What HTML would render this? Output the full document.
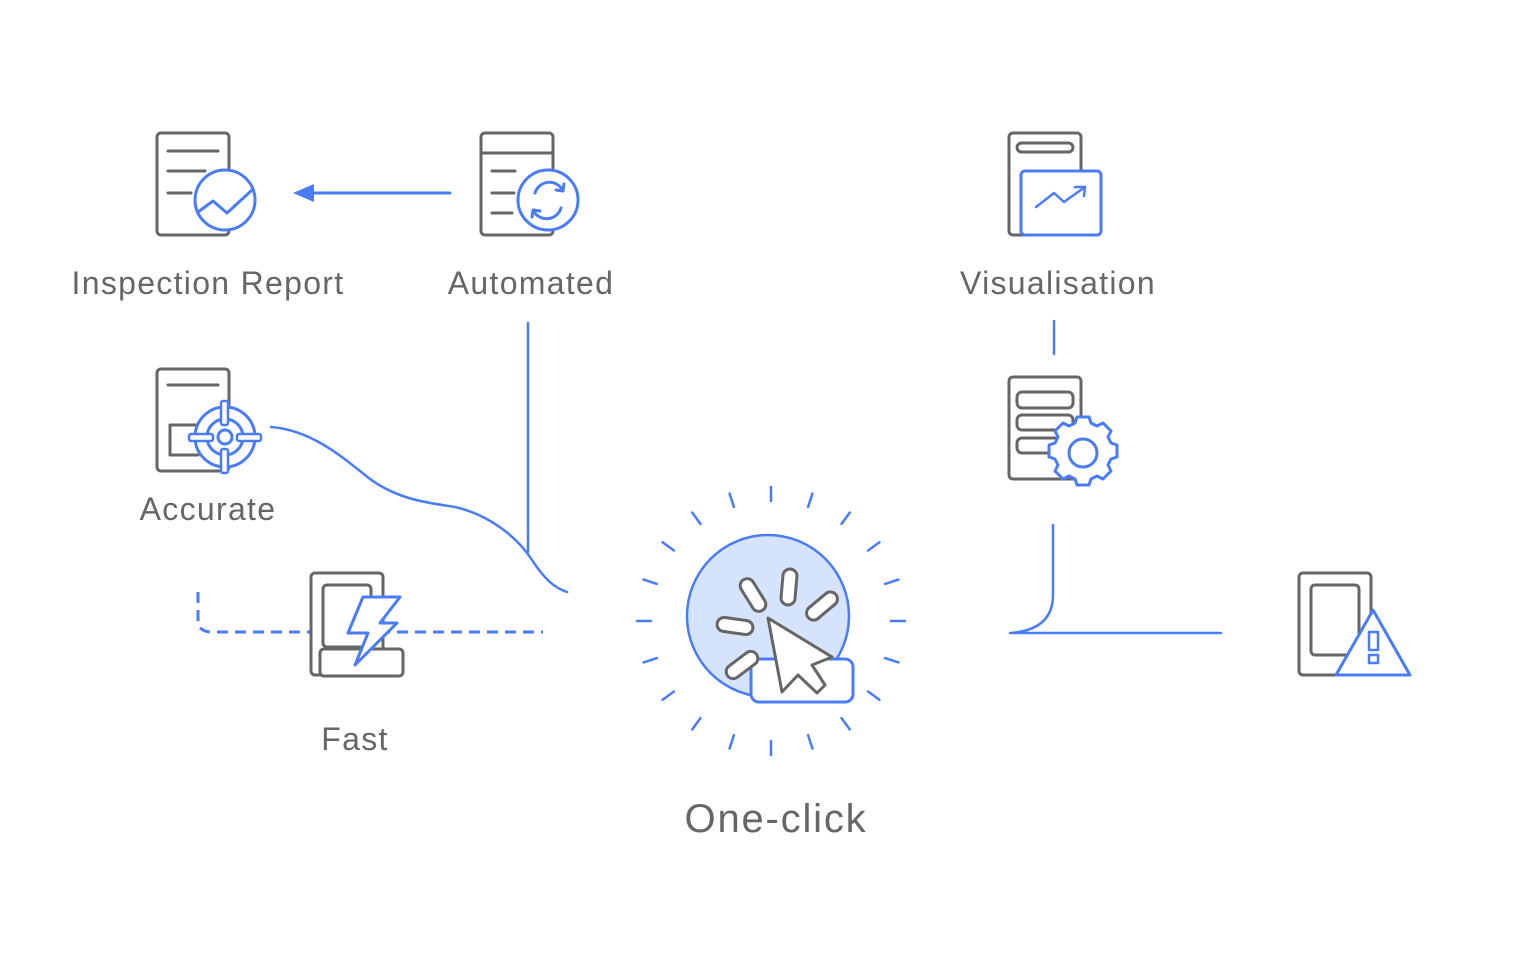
<!DOCTYPE html>
<html><head><meta charset="utf-8"><style>
html,body{margin:0;padding:0;background:#fff;}
svg{display:block}
text{font-family:"Liberation Sans",sans-serif;fill:#666;}
.l{font-size:32px;letter-spacing:1.3px;}
</style></head><body>
<svg width="1540" height="960" viewBox="0 0 1540 960" xmlns="http://www.w3.org/2000/svg">
<g fill="none" stroke-linecap="round" stroke-linejoin="round">
<rect x="157" y="133" width="72" height="102" rx="4" stroke="#666" stroke-width="3"/>
<path d="M168 151H218M168 171H205M168 193H191" stroke="#666" stroke-width="3"/>
<circle cx="225" cy="200" r="30" fill="#fff" stroke="#4a7cf7" stroke-width="3"/>
<polyline points="198,212 213,201 227,213 252,190" stroke="#4a7cf7" stroke-width="3"/>
<line x1="450" y1="193" x2="312" y2="193" stroke="#4a7cf7" stroke-width="3"/>
<polygon points="293,193 314,184 314,202" fill="#4a7cf7"/>
<rect x="481" y="133" width="72" height="102" rx="4" stroke="#666" stroke-width="3"/>
<path d="M481 153H553M492 171H515M492 193H514M492 213H512" stroke="#666" stroke-width="3"/>
<circle cx="548" cy="200" r="30" fill="#fff" stroke="#4a7cf7" stroke-width="3"/>
<path d="M535 193A15 15 0 0 1 563 191M563 191L564 184M563 191L556 190" stroke="#4a7cf7" stroke-width="3"/>
<path d="M561 208A15 15 0 0 1 533 210M533 210L532 217M533 210L540 211" stroke="#4a7cf7" stroke-width="3"/>
<rect x="157" y="369" width="72" height="102" rx="4" stroke="#666" stroke-width="3"/>
<path d="M168 385H218M198 425H170V455H198" stroke="#666" stroke-width="3"/>
<circle cx="225" cy="437" r="30" fill="#fff" stroke="#4a7cf7" stroke-width="3"/>
<circle cx="225" cy="437" r="18" stroke="#4a7cf7" stroke-width="3"/>
<circle cx="225" cy="437" r="7" stroke="#4a7cf7" stroke-width="3"/>
<rect x="221" y="401" width="7" height="24" rx="2" fill="#fff" stroke="#4a7cf7" stroke-width="2.5"/>
<rect x="221" y="449" width="7" height="24" rx="2" fill="#fff" stroke="#4a7cf7" stroke-width="2.5"/>
<rect x="189" y="434" width="24" height="7" rx="2" fill="#fff" stroke="#4a7cf7" stroke-width="2.5"/>
<rect x="237" y="434" width="24" height="7" rx="2" fill="#fff" stroke="#4a7cf7" stroke-width="2.5"/>
<line x1="528" y1="323" x2="528" y2="552" stroke="#4a7cf7" stroke-width="2.5"/>
<path d="M271 427C310 430 340 455 365 475C395 500 430 503 455 507C490 515 518 538 532 560C545 580 555 588 567 592" stroke="#4a7cf7" stroke-width="2.5"/>
<path d="M198 592V620Q198 632 212 632H543" stroke="#4a7cf7" stroke-width="3" stroke-dasharray="11 7" stroke-linecap="butt"/>
<rect x="311" y="573" width="72" height="102" rx="4" fill="#fff" stroke="#666" stroke-width="3"/>
<rect x="323" y="585" width="48" height="62" rx="4" stroke="#666" stroke-width="3"/>
<rect x="320" y="649" width="83" height="27" rx="4" fill="#fff" stroke="#666" stroke-width="3"/>
<polygon points="363,597 400,597 380,623 397,623 355,665 368,633 348,633" fill="#fff" stroke="#4a7cf7" stroke-width="3"/>
<g stroke="#4a7cf7" stroke-width="2.5" transform="translate(771,621)">
<line x1="0" y1="-120" x2="0" y2="-134"/>
<line x1="0" y1="-120" x2="0" y2="-134" transform="rotate(18)"/>
<line x1="0" y1="-120" x2="0" y2="-134" transform="rotate(36)"/>
<line x1="0" y1="-120" x2="0" y2="-134" transform="rotate(54)"/>
<line x1="0" y1="-120" x2="0" y2="-134" transform="rotate(72)"/>
<line x1="0" y1="-120" x2="0" y2="-134" transform="rotate(90)"/>
<line x1="0" y1="-120" x2="0" y2="-134" transform="rotate(108)"/>
<line x1="0" y1="-120" x2="0" y2="-134" transform="rotate(126)"/>
<line x1="0" y1="-120" x2="0" y2="-134" transform="rotate(144)"/>
<line x1="0" y1="-120" x2="0" y2="-134" transform="rotate(162)"/>
<line x1="0" y1="-120" x2="0" y2="-134" transform="rotate(180)"/>
<line x1="0" y1="-120" x2="0" y2="-134" transform="rotate(198)"/>
<line x1="0" y1="-120" x2="0" y2="-134" transform="rotate(216)"/>
<line x1="0" y1="-120" x2="0" y2="-134" transform="rotate(234)"/>
<line x1="0" y1="-120" x2="0" y2="-134" transform="rotate(252)"/>
<line x1="0" y1="-120" x2="0" y2="-134" transform="rotate(270)"/>
<line x1="0" y1="-120" x2="0" y2="-134" transform="rotate(288)"/>
<line x1="0" y1="-120" x2="0" y2="-134" transform="rotate(306)"/>
<line x1="0" y1="-120" x2="0" y2="-134" transform="rotate(324)"/>
<line x1="0" y1="-120" x2="0" y2="-134" transform="rotate(342)"/>
</g>
<circle cx="768" cy="616" r="81" fill="#d6e3fd" stroke="#4a7cf7" stroke-width="2.5"/>
<rect x="751" y="659" width="102" height="43" rx="8" fill="#fff" stroke="#4a7cf7" stroke-width="3"/>
<g stroke="#666" stroke-width="3" fill="#fff">
<rect x="-18" y="-7" width="36" height="14" rx="7" transform="translate(753,595) rotate(58)"/>
<rect x="-18" y="-7" width="36" height="14" rx="7" transform="translate(789,587) rotate(95)"/>
<rect x="-18" y="-7" width="36" height="14" rx="7" transform="translate(822,606) rotate(-40)"/>
<rect x="-18" y="-7" width="36" height="14" rx="7" transform="translate(735,626) rotate(8)"/>
<rect x="-18" y="-7" width="36" height="14" rx="7" transform="translate(742,665) rotate(-37)"/>
<polygon points="768,618 832,657 812,665 825,685 817,693 798,675 782,692"/>
</g>
<rect x="1009" y="133" width="72" height="102" rx="4" stroke="#666" stroke-width="3"/>
<rect x="1017" y="143" width="56" height="9" rx="4.5" stroke="#666" stroke-width="3"/>
<rect x="1021" y="171" width="80" height="64" rx="4" fill="#fff" stroke="#4a7cf7" stroke-width="3"/>
<polyline points="1036,207 1054,193 1064,202 1085,187" stroke="#4a7cf7" stroke-width="2.5"/>
<polyline points="1075,187 1085,187 1084,196" stroke="#4a7cf7" stroke-width="2.5"/>
<line x1="1054" y1="321" x2="1054" y2="354" stroke="#4a7cf7" stroke-width="2.5"/>
<rect x="1009" y="377" width="72" height="102" rx="4" stroke="#666" stroke-width="3"/>
<rect x="1017" y="392" width="56" height="16" rx="5" stroke="#666" stroke-width="3"/>
<rect x="1017" y="415" width="56" height="15" rx="5" stroke="#666" stroke-width="3"/>
<rect x="1017" y="438" width="56" height="15" rx="5" stroke="#666" stroke-width="3"/>
<path d="M1077 417h12l2 6 6 3 6-3 8 8-3 6 3 6 6 2v12l-6 2-3 6 3 6-8 8-6-3-6 3-2 6h-12l-2-6-6-3-6 3-8-8 3-6-3-6-6-2v-12l6-2 3-6-3-6 8-8 6 3 6-3z" fill="#fff" stroke="#4a7cf7" stroke-width="3"/>
<circle cx="1083" cy="453" r="14" stroke="#4a7cf7" stroke-width="3"/>
<path d="M1053 525V595Q1053 630 1010 633H1221" stroke="#4a7cf7" stroke-width="2.5"/>
<rect x="1299" y="573" width="72" height="102" rx="4" stroke="#666" stroke-width="3"/>
<rect x="1311" y="585" width="48" height="70" rx="4" stroke="#666" stroke-width="3"/>
<polygon points="1373,610 1410,675 1336,675" fill="#fff" stroke="#4a7cf7" stroke-width="3"/>
<rect x="1369" y="632" width="9" height="18" stroke="#4a7cf7" stroke-width="2.5"/>
<rect x="1369" y="655" width="9" height="8" stroke="#4a7cf7" stroke-width="2.5"/>
</g>
<text class="l" x="208" y="294" text-anchor="middle">Inspection Report</text>
<text class="l" x="531" y="294" text-anchor="middle">Automated</text>
<text class="l" x="1058" y="294" text-anchor="middle">Visualisation</text>
<text class="l" x="208" y="520" text-anchor="middle">Accurate</text>
<text class="l" x="355" y="750" text-anchor="middle">Fast</text>
<text x="776" y="832" font-size="40" letter-spacing="1.8" text-anchor="middle">One-click</text>
</svg>
</body></html>
